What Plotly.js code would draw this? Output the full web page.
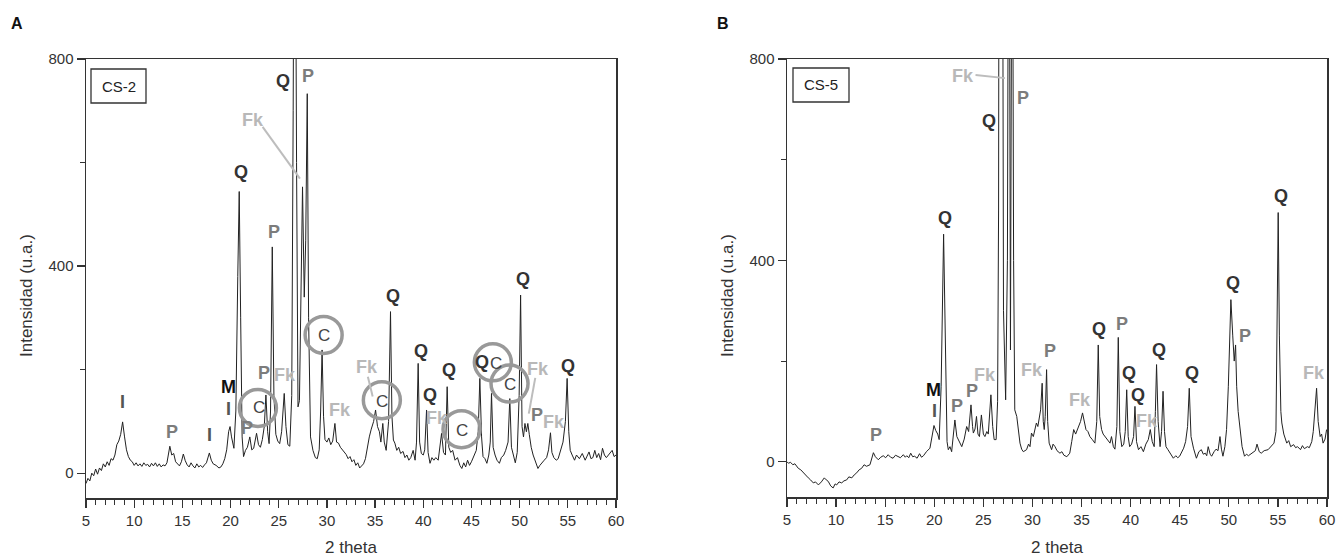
<!DOCTYPE html>
<html>
<head>
<meta charset="utf-8">
<script src="https://cdn.plot.ly/plotly-3.0.1.min.js"></script>
<style>html,body{margin:0;padding:0;background:#fff;}#chart{width:1338px;height:558px;}</style>
</head>
<body>
<div id="chart"></div>
<script>
// ---------- Panel A (CS-2) ----------
const thetaA = [5.0,5.2,5.4,5.6,5.8,6.0,6.2,6.4,6.6,6.8,7.0,7.2,7.4,7.6,7.8,8.0,8.2,8.4,8.6,8.8,9.0,9.2,9.4,9.6,9.8,
10.0,10.2,10.4,10.6,10.8,11.0,11.2,11.4,11.6,11.8,12.0,12.2,12.4,12.6,12.8,13.0,13.2,13.4,13.6,13.7,13.9,14.1,14.3,14.5,14.7,14.9,
15.1,15.3,15.5,15.7,15.9,16.1,16.3,16.5,16.7,16.9,17.1,17.3,17.5,17.8,18.0,18.2,18.5,18.8,19.0,19.2,19.4,19.6,19.8,19.95,
20.1,20.35,20.55,20.75,20.9,21.05,21.2,21.35,21.55,21.75,22.0,22.2,22.4,22.7,22.9,23.1,23.3,23.5,23.67,23.85,24.0,24.15,24.33,24.5,24.7,24.9,
25.1,25.3,25.45,25.57,25.75,25.95,26.15,26.35,26.5,26.65,26.85,27.0,27.15,27.3,27.47,27.65,27.8,27.96,28.1,28.3,28.55,28.8,
29.0,29.2,29.35,29.5,29.65,29.8,30.0,30.2,30.4,30.6,30.83,31.0,31.2,31.4,31.6,31.8,32.0,32.2,32.4,32.6,32.8,33.0,33.2,33.4,33.6,33.8,
34.0,34.2,34.4,34.6,34.85,35.05,35.25,35.45,35.6,35.8,35.95,36.15,36.4,36.6,36.75,36.9,37.05,37.25,37.45,37.65,37.9,38.1,38.3,38.5,38.7,38.95,
39.15,39.3,39.47,39.62,39.8,40.0,40.15,40.34,40.5,40.7,40.9,41.1,41.3,41.55,41.75,41.9,42.1,42.3,42.48,42.65,42.85,43.05,43.3,43.55,43.8,
44.0,44.2,44.4,44.6,44.8,45.0,45.2,45.5,45.7,45.87,46.05,46.2,46.4,46.6,46.8,46.95,47.08,47.25,47.45,47.65,47.9,48.1,48.35,48.55,48.8,48.98,
49.15,49.35,49.55,49.75,49.95,50.1,50.25,50.4,50.55,50.7,50.85,51.0,51.2,51.4,51.68,51.9,52.1,52.3,52.55,52.8,53.0,53.2,53.35,53.55,53.8,
54.0,54.2,54.5,54.75,54.93,55.1,55.25,55.45,55.7,55.9,56.2,56.5,56.8,57.0,57.2,57.4,57.6,57.8,58.0,58.2,58.4,58.6,58.8,59.0,59.3,59.6,59.8,60.0];
const intA = [-20,-10,-15,0,-5,8,-2,10,5,18,12,22,15,28,25,35,55,62,75,99,70,45,32,25,22,
15,20,14,18,13,20,15,17,12,19,14,20,13,18,12,16,14,20,45,52,35,38,22,18,14,22,
37,24,16,12,20,14,10,18,12,15,11,16,20,39,25,18,15,10,12,18,28,45,80,90,
70,48,120,380,544,300,70,32,44,50,70,45,48,77,55,50,65,90,151,80,57,120,437,150,75,62,
57,80,120,154,90,55,52,150,700,1500,600,128,140,300,553,340,450,733,300,70,44,30,
28,45,120,238,110,65,60,68,55,62,96,60,58,50,45,40,36,28,32,22,26,15,20,10,14,18,
28,50,70,85,100,122,90,80,60,96,60,44,100,312,110,64,58,44,50,38,42,30,35,25,30,44,
25,60,212,60,38,35,45,122,40,19,30,25,30,25,50,77,40,35,167,50,40,44,25,30,15,
9,20,12,25,15,22,32,44,80,183,70,32,28,19,35,60,154,50,35,25,19,30,35,44,60,144,
50,32,20,40,150,344,90,70,96,80,96,75,50,35,19,9,15,20,25,30,45,78,40,30,25,
28,40,60,100,183,80,44,35,25,35,28,38,25,33,41,28,30,44,30,38,26,48,35,30,38,44,32,35];

// ---------- Panel B (CS-5) ----------
const thetaB = [5.0,5.15,5.35,5.6,5.8,6.0,6.15,6.4,6.66,6.9,7.17,7.4,7.68,7.9,8.2,8.5,8.8,9.0,9.2,9.45,9.7,9.9,
10.06,10.3,10.57,10.8,11.08,11.3,11.6,11.85,12.1,12.35,12.6,12.85,13.1,13.45,13.65,13.8,14.0,14.3,14.55,14.8,
15.05,15.3,15.55,15.8,16.05,16.3,16.55,16.85,17.05,17.2,17.4,17.6,17.8,18.0,18.25,18.5,18.7,18.9,19.2,19.56,19.8,19.97,
20.15,20.35,20.5,20.7,20.95,21.15,21.3,21.43,21.6,21.77,21.95,22.1,22.3,22.45,22.6,22.8,23.05,23.3,23.5,23.74,23.9,23.98,
24.15,24.3,24.45,24.6,24.8,25.0,25.16,25.35,25.5,25.77,25.95,26.1,26.3,26.45,26.55,26.65,26.8,26.92,27.05,27.27,27.45,27.6,27.7,27.76,27.85,27.95,28.08,28.2,
28.4,28.6,28.73,28.9,29.07,29.4,29.6,29.75,29.9,30.09,30.3,30.4,30.55,30.7,30.83,30.99,31.1,31.2,31.3,31.44,31.55,31.7,31.95,
32.1,32.3,32.5,32.8,33.0,33.2,33.5,33.8,34.0,34.2,34.4,34.7,34.9,35.1,35.3,35.45,35.65,35.85,36.1,36.36,36.55,36.7,36.85,
37.04,37.2,37.4,37.65,37.9,38.05,38.24,38.4,38.6,38.74,38.9,39.1,39.3,39.45,39.6,39.75,39.9,40.1,40.3,40.44,40.6,40.8,
41.05,41.3,41.55,41.8,42.0,42.2,42.4,42.52,42.64,42.8,43.0,43.15,43.3,43.45,43.6,43.8,44.1,44.35,44.6,44.8,44.99,
45.2,45.4,45.6,45.8,45.97,46.15,46.4,46.7,46.95,47.2,47.4,47.6,47.75,47.9,48.1,48.25,48.5,48.7,48.9,49.1,49.25,49.4,49.6,49.77,49.95,
50.1,50.21,50.4,50.55,50.69,50.8,50.95,51.13,51.35,51.6,51.8,52.0,52.3,52.5,52.7,52.87,53.1,53.3,53.6,54.0,54.3,54.6,54.8,54.92,55.03,
55.15,55.3,55.4,55.6,55.9,56.1,56.3,56.6,56.8,57.0,57.3,57.5,57.7,58.0,58.2,58.45,58.6,58.8,58.94,59.1,59.3,59.45,59.6,59.8,59.96];
const intB = [0,-3,-1,-6,-4,-10,-13,-16,-22,-26,-32,-36,-42,-40,-46,-40,-32,-36,-39,-48,-52,-44,
-46,-40,-42,-38,-36,-30,-32,-26,-22,-16,-13,-6,-9,-6,10,18,10,4,9,12,
8,14,9,7,13,11,8,14,9,12,8,17,10,11,7,16,9,12,20,27,55,72,
62,55,44,150,452,180,40,24,30,20,50,83,50,44,35,30,45,70,60,113,70,57,
65,90,55,50,93,55,50,60,55,133,70,44,44,120,500,2000,1500,1500,300,123,400,1500,613,222,800,1300,400,103,
90,50,37,25,20,24,35,30,57,50,70,77,70,90,103,156,80,64,90,183,80,37,24,
35,30,22,17,20,13,10,17,40,64,55,70,80,97,75,64,60,50,44,37,80,232,90,
64,55,50,45,37,50,30,25,70,247,60,30,35,60,143,50,30,35,50,110,40,24,
30,20,35,44,64,40,30,100,193,80,30,60,140,60,30,24,15,7,12,8,11,
18,27,40,70,146,50,27,7,20,24,15,17,12,30,15,11,20,25,22,50,25,11,30,64,150,
250,322,250,200,232,150,100,64,30,11,15,12,17,20,22,35,20,17,22,24,30,37,60,250,495,
250,100,77,55,37,42,30,34,28,30,24,32,26,30,28,40,60,110,146,80,50,55,37,45,64];

// ---------- Phase labels ----------
// kind: Q quartz, P plagioclase, Fk K-feldspar, I illite, M mica
const labelsA = [
  ["I",8.8,138],["P",13.89,80],["I",17.86,73],["M",19.83,167],["I",19.83,123],["P",21.75,88],
  ["P",23.5,193],["Fk",25.64,189],["Q",21.08,582],["P",24.53,466],["Fk",22.29,682],["Q",25.47,758],
  ["P",28.06,767],["Fk",31.4,122],["Fk",34.12,205],["Q",36.81,342],["Q",39.75,236],["Q",40.68,151],
  ["Fk",41.38,106],["Q",42.66,199],["Q",46.05,215],["Q",50.3,376],["Fk",51.92,202],["P",51.82,112],
  ["Fk",53.55,99],["Q",55.03,207]
];
const circlesA = [[22.84,126],[29.66,267],[35.7,141],[43.97,85],[47.22,214],[48.95,173]];
const circleTextA = [[22.95,126],[29.66,265],[35.75,139],[43.97,83],[47.55,212],[48.95,171]];
const leadersA = [[23.33,669,27.2,569],[34.25,186,34.75,148],[51.62,184,50.95,115]];

const labelsB = [
  ["P",14.06,54],["M",19.9,142],["I",20.0,100],["P",22.34,111],["P",23.8,140],["Fk",25.16,173],
  ["Q",21.09,484],["Q",25.6,676],["Fk",22.95,766],["P",29.06,722],["Fk",29.92,183],["P",31.78,221],
  ["Fk",34.84,122],["Q",36.8,263],["P",39.08,274],["Q",39.86,176],["Q",40.78,133],["Fk",41.63,80],
  ["Q",42.85,222],["Q",46.2,176],["Q",50.45,355],["P",51.64,250],["Q",55.3,527],["Fk",58.67,176]
];
const leadersB = [[24.2,768,27.2,762]];

const kindColor = {Q:"#333333", P:"#7c7c7c", Fk:"#b8b8b8", I:"#555555", M:"#111111"};
const FONT = "Liberation Sans, Arial, Helvetica, sans-serif";
const W = 1338, H = 558;
const px = v => v / W, py = v => 1 - v / H;

const traceA = {x: thetaA, y: intA, type: "scatter", mode: "lines", xaxis: "x", yaxis: "y",
  line: {color: "#222", width: 1}, hoverinfo: "skip", showlegend: false};
const traceB = {x: thetaB, y: intB, type: "scatter", mode: "lines", xaxis: "x2", yaxis: "y2",
  line: {color: "#222", width: 1}, hoverinfo: "skip", showlegend: false};

function xAxis(domain, anchor) {
  return {domain: domain, anchor: anchor, range: [5, 60], tick0: 5, dtick: 5,
    ticks: "outside", ticklen: 8, tickwidth: 1.2, tickcolor: "#333",
    minor: {dtick: 1, ticks: "outside", ticklen: 5, tickwidth: 1, tickcolor: "#333"},
    showline: true, mirror: true, linecolor: "#333", linewidth: 1.5,
    showgrid: false, zeroline: false, tickfont: {family: FONT, size: 15, color: "#333"}, fixedrange: true};
}
function yAxis(domain, anchor, range) {
  return {domain: domain, anchor: anchor, range: range, tickvals: [0, 400, 800], ticktext: ["0","400","800"],
    ticks: "outside", ticklen: 8, tickwidth: 1.2, tickcolor: "#333",
    minor: {tickvals: [200, 600], ticks: "outside", ticklen: 5, tickwidth: 1, tickcolor: "#333"},
    showline: true, mirror: true, linecolor: "#333", linewidth: 1.5,
    showgrid: false, zeroline: false, tickfont: {family: FONT, size: 15, color: "#333"}, fixedrange: true};
}

const annotations = [];
const shapes = [];
function addLabels(list, xr, yr) {
  list.forEach(([t, x, y]) => annotations.push({text: "<b>" + t + "</b>", x: x, y: y, xref: xr, yref: yr,
    showarrow: false, xanchor: "center", yanchor: "middle",
    font: {family: FONT, size: 18, color: kindColor[t]}}));
}
addLabels(labelsA, "x", "y");
addLabels(labelsB, "x2", "y2");
circleTextA.forEach(([x, y]) => annotations.push({text: "C", x: x, y: y, xref: "x", yref: "y", showarrow: false,
  xanchor: "center", yanchor: "middle", font: {family: FONT, size: 17, color: "#444"}}));
circlesA.forEach(([x, y]) => shapes.push({type: "circle", xref: "x", yref: "y", xsizemode: "pixel", ysizemode: "pixel",
  xanchor: x, yanchor: y, x0: -18.5, x1: 18.5, y0: -18.5, y1: 18.5, layer: "above",
  line: {color: "#999", width: 3.5}, fillcolor: "rgba(0,0,0,0)"}));
leadersA.forEach(([x0, y0, x1, y1]) => shapes.push({type: "line", xref: "x", yref: "y", x0, y0, x1, y1,
  line: {color: "#bdbdbd", width: 2}, layer: "above"}));
leadersB.forEach(([x0, y0, x1, y1]) => shapes.push({type: "line", xref: "x2", yref: "y2", x0, y0, x1, y1,
  line: {color: "#bdbdbd", width: 2}, layer: "above"}));

// sample boxes
shapes.push({type: "rect", xref: "paper", yref: "paper", x0: px(91), x1: px(146), y0: py(103), y1: py(69),
  line: {color: "#333", width: 1.3}});
shapes.push({type: "rect", xref: "paper", yref: "paper", x0: px(793), x1: px(849), y0: py(102), y1: py(68),
  line: {color: "#333", width: 1.3}});
annotations.push({text: "CS-2", xref: "paper", yref: "paper", x: px(118.5), y: py(86), showarrow: false,
  xanchor: "center", yanchor: "middle", font: {family: FONT, size: 15, color: "#222"}});
annotations.push({text: "CS-5", xref: "paper", yref: "paper", x: px(821), y: py(85), showarrow: false,
  xanchor: "center", yanchor: "middle", font: {family: FONT, size: 15, color: "#222"}});

// panel letters and axis titles
annotations.push({text: "<b>A</b>", xref: "paper", yref: "paper", x: px(17), y: py(23), showarrow: false,
  xanchor: "center", yanchor: "middle", font: {family: FONT, size: 16, color: "#111"}});
annotations.push({text: "<b>B</b>", xref: "paper", yref: "paper", x: px(723), y: py(23), showarrow: false,
  xanchor: "center", yanchor: "middle", font: {family: FONT, size: 16, color: "#111"}});
[26, 727].forEach(xp => annotations.push({text: "Intensidad (u.a.)", xref: "paper", yref: "paper",
  x: px(xp), y: py(296), textangle: -90, showarrow: false, xanchor: "center", yanchor: "middle",
  font: {family: FONT, size: 17, color: "#333"}}));
[351, 1057].forEach(xp => annotations.push({text: "2 theta", xref: "paper", yref: "paper",
  x: px(xp), y: py(547), showarrow: false, xanchor: "center", yanchor: "middle",
  font: {family: FONT, size: 17, color: "#333"}}));

const layout = {
  width: W, height: H, margin: {l: 0, r: 0, t: 0, b: 0},
  paper_bgcolor: "#fff", plot_bgcolor: "#fff", showlegend: false,
  xaxis: xAxis([px(86), px(616)], "y"),
  yaxis: yAxis([1 - 498 / H, 1 - 59 / H], "x", [-48, 800]),
  xaxis2: xAxis([px(787), px(1327)], "y2"),
  yaxis2: yAxis([1 - 497 / H, 1 - 59 / H], "x2", [-70, 800]),
  annotations: annotations, shapes: shapes
};
Plotly.newPlot("chart", [traceA, traceB], layout, {displayModeBar: false, staticPlot: true});
</script>
</body>
</html>
